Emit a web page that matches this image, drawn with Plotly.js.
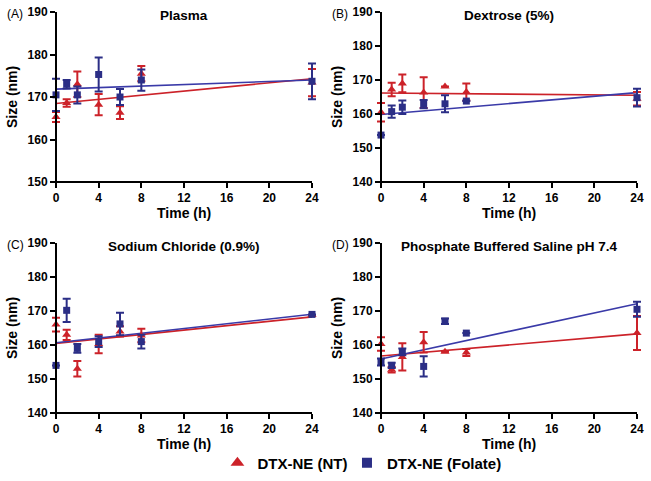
<!DOCTYPE html>
<html>
<head>
<meta charset="utf-8">
<script src="https://cdn.plot.ly/plotly-3.0.1.min.js"></script>
</head>
<body style="margin:0;background:#fff">
<div id="chart" style="width:651px;height:481px"></div>
<script>
// ---------- data ----------
const time = [0, 1, 2, 4, 6, 8, 24];
const timeTicks = [0, 4, 8, 12, 16, 20, 24];
const panelTitles = ['Plasma', 'Dextrose (5%)', 'Sodium Chloride (0.9%)', 'Phosphate Buffered Saline pH 7.4'];
const panelLabels = ['(A)', '(B)', '(C)', '(D)'];
const seriesNames = ['DTX-NE (NT)', 'DTX-NE (Folate)'];

// Plasma
const ntPlasma      = [165.3, 168.6, 173.0, 168.2, 166.3, 175.5, 173.4];
const ntPlasmaErr   = [1.2, 0.9, 3.0, 2.5, 1.5, 1.8, 3.2];
const folPlasma     = [170.5, 173.0, 170.5, 175.3, 170.0, 174.0, 173.7];
const folPlasmaErr  = [3.8, 1.0, 2.0, 4.0, 1.9, 2.5, 4.2];
// Dextrose (5%)
const ntDextrose     = [160.5, 167.2, 169.0, 166.3, 168.1, 166.5, 164.5];
const ntDextroseErr  = [2.7, 2.0, 2.6, 4.5, null, 2.5, 2.0];
const folDextrose    = [153.8, 160.7, 162.0, 162.9, 163.0, 163.8, 164.8];
const folDextroseErr = [null, 1.8, 2.0, 1.2, 2.5, null, 2.6];
// Sodium Chloride (0.9%)
const ntSaline     = [166.0, 163.0, 153.0, 160.3, 164.0, 162.8, 168.8];
const ntSalineErr  = [2.0, 1.5, 2.3, 2.7, 1.5, 2.0, null];
const folSaline    = [154.0, 170.2, 159.0, 161.0, 166.2, 161.0, 169.0];
const folSalineErr = [null, 3.4, 1.3, 1.6, 3.3, 2.0, null];
// Phosphate Buffered Saline pH 7.4
const ntPBS     = [160.3, 152.7, 156.5, 160.8, 158.0, 157.8, 163.5];
const ntPBSErr  = [2.0, 0.8, 4.0, 3.0, null, 1.0, 5.0];
const folPBS    = [155.0, 154.0, 158.0, 153.7, 167.0, 163.5, 170.5];
const folPBSErr = [1.0, 0.8, 1.0, 3.0, 0.8, null, 2.2];

const ntSeries  = [ntPlasma, ntDextrose, ntSaline, ntPBS];
const ntErrors  = [ntPlasmaErr, ntDextroseErr, ntSalineErr, ntPBSErr];
const folSeries = [folPlasma, folDextrose, folSaline, folPBS];
const folErrors = [folPlasmaErr, folDextroseErr, folSalineErr, folPBSErr];
const yRanges = [[150, 190], [140, 190], [140, 190], [140, 190]];

// ---------- styling ----------
const RED = '#cc2229', BLUE = '#2b2e86', BLUE_LINE = '#3a3aa8';
const FONT = 'Liberation Sans, Arial, sans-serif';

// least-squares linear fit of a series against time
function linFit(x, y) {
  const n = x.length;
  const mx = x.reduce((a, b) => a + b, 0) / n;
  const my = y.reduce((a, b) => a + b, 0) / n;
  let sxy = 0, sxx = 0;
  for (let i = 0; i < n; i++) { sxy += (x[i] - mx) * (y[i] - my); sxx += (x[i] - mx) ** 2; }
  const b = sxy / sxx, a = my - b * mx;
  const xs = [Math.min(...x), Math.max(...x)];
  return { x: xs, y: xs.map(v => a + b * v) };
}

// panel geometry (pixels of the 651x481 figure): axis spans of x = 0..24 and y range
const W = 651, H = 481;
const xAxisPx = [[56, 312], [381, 637], [56, 312], [381, 637]];
const yAxisPx = [[12, 182], [12, 182], [243, 413], [243, 413]];
const PAD = 0.9; // extra time units on each side so end-point error bars are not clipped

const legendFont = { family: FONT, size: 15, weight: 'bold', color: '#000' };
const traces = [];
const shapes = [];
const layout = {
  width: W, height: H,
  margin: { l: 0, r: 0, t: 0, b: 0 },
  paper_bgcolor: '#fff', plot_bgcolor: 'rgba(0,0,0,0)',
  font: { family: FONT, color: '#000' },
  showlegend: true,
  legend: {
    orientation: 'h', x: 0.334, xanchor: 'left', y: 1 - 463 / H, yanchor: 'middle',
    font: legendFont, itemwidth: 30, bgcolor: 'rgba(0,0,0,0)'
  },
  legend2: {
    orientation: 'h', x: 0.533, xanchor: 'left', y: 1 - 463 / H, yanchor: 'middle',
    font: legendFont, itemwidth: 30, bgcolor: 'rgba(0,0,0,0)'
  },
  annotations: [],
  shapes: shapes
};

for (let p = 0; p < 4; p++) {
  const sfx = p === 0 ? '' : String(p + 1);
  const xa = 'x' + sfx, ya = 'y' + sfx;
  const fNT = linFit(time, ntSeries[p]);
  const fFol = linFit(time, folSeries[p]);
  traces.push({ x: fNT.x, y: fNT.y, xaxis: xa, yaxis: ya, mode: 'lines', showlegend: false,
    line: { color: RED, width: 1.6 }, hoverinfo: 'skip' });
  traces.push({ x: fFol.x, y: fFol.y, xaxis: xa, yaxis: ya, mode: 'lines', showlegend: false,
    line: { color: BLUE_LINE, width: 1.6 }, hoverinfo: 'skip' });
  traces.push({ x: time, y: ntSeries[p], xaxis: xa, yaxis: ya, mode: 'markers', name: seriesNames[0],
    legendgroup: 'nt', showlegend: false, cliponaxis: false,
    marker: { symbol: 'triangle-up', size: 8, color: RED },
    error_y: { type: 'data', array: ntErrors[p], visible: true, color: RED, thickness: 2, width: 4 } });
  traces.push({ x: time, y: folSeries[p], xaxis: xa, yaxis: ya, mode: 'markers', name: seriesNames[1],
    legendgroup: 'fol', showlegend: false, cliponaxis: false,
    marker: { symbol: 'square', size: 7, color: BLUE },
    error_y: { type: 'data', array: folErrors[p], visible: true, color: BLUE, thickness: 2, width: 4 } });

  const pxPerUnit = (xAxisPx[p][1] - xAxisPx[p][0]) / (timeTicks[timeTicks.length - 1] - timeTicks[0]);
  const axCommon = {
    ticks: 'outside', ticklen: 5, tickwidth: 2,
    tickcolor: '#000', showgrid: false, zeroline: false, fixedrange: true, automargin: false,
    tickfont: { family: FONT, size: 12, weight: 'bold', color: '#000' }
  };
  layout['xaxis' + sfx] = Object.assign({}, axCommon, {
    domain: [(xAxisPx[p][0] - PAD * pxPerUnit) / W, (xAxisPx[p][1] + PAD * pxPerUnit) / W],
    range: [timeTicks[0] - PAD, timeTicks[timeTicks.length - 1] + PAD],
    tickvals: timeTicks, anchor: ya, showline: false
  });
  layout['yaxis' + sfx] = Object.assign({}, axCommon, {
    domain: [1 - yAxisPx[p][1] / H, 1 - yAxisPx[p][0] / H], range: yRanges[p], dtick: 10,
    anchor: 'free', position: xAxisPx[p][0] / W,
    showline: true, linecolor: '#000', linewidth: 2
  });
  // bottom axis line spanning the time range only (0 .. 24 h)
  shapes.push({ type: 'line', xref: xa, yref: ya + ' domain',
    x0: timeTicks[0] - 1 / pxPerUnit, x1: timeTicks[timeTicks.length - 1], y0: 0, y1: 0,
    line: { color: '#000', width: 2 }, layer: 'above' });

  const cx = (xAxisPx[p][0] + xAxisPx[p][1]) / 2 / W;
  const cy = 1 - (yAxisPx[p][0] + yAxisPx[p][1]) / 2 / H;
  layout.annotations.push({ text: panelTitles[p], xref: 'paper', yref: 'paper', x: cx, y: 1 - (yAxisPx[p][0] + 3) / H,
    xanchor: 'center', yanchor: 'middle', showarrow: false,
    font: { family: FONT, size: 13.5, weight: 'bold', color: '#000' } });
  layout.annotations.push({ text: panelLabels[p], xref: 'paper', yref: 'paper', x: (xAxisPx[p][0] - 41) / W, y: 1 - (yAxisPx[p][0] + 2) / H,
    xanchor: 'center', yanchor: 'middle', showarrow: false,
    font: { family: FONT, size: 12, color: '#000' } });
  layout.annotations.push({ text: 'Time (h)', xref: 'paper', yref: 'paper', x: cx, y: 1 - (yAxisPx[p][1] + 31) / H,
    xanchor: 'center', yanchor: 'middle', showarrow: false,
    font: { family: FONT, size: 14, weight: 'bold', color: '#000' } });
  layout.annotations.push({ text: 'Size (nm)', xref: 'paper', yref: 'paper', x: (xAxisPx[p][0] - 44) / W, y: cy,
    xanchor: 'center', yanchor: 'middle', textangle: -90, showarrow: false,
    font: { family: FONT, size: 14, weight: 'bold', color: '#000' } });
}

// legend entries (no data of their own, larger symbols like the reference key)
traces.push({ x: [null], y: [null], xaxis: 'x', yaxis: 'y', mode: 'markers', name: seriesNames[0],
  legend: 'legend', legendgroup: 'nt', showlegend: true, marker: { symbol: 'triangle-up', size: 12, color: RED } });
traces.push({ x: [null], y: [null], xaxis: 'x', yaxis: 'y', mode: 'markers', name: seriesNames[1],
  legend: 'legend2', legendgroup: 'fol', showlegend: true, marker: { symbol: 'square', size: 10, color: BLUE } });

Plotly.newPlot('chart', traces, layout, { displayModeBar: false, staticPlot: true });
</script>
</body>
</html>
